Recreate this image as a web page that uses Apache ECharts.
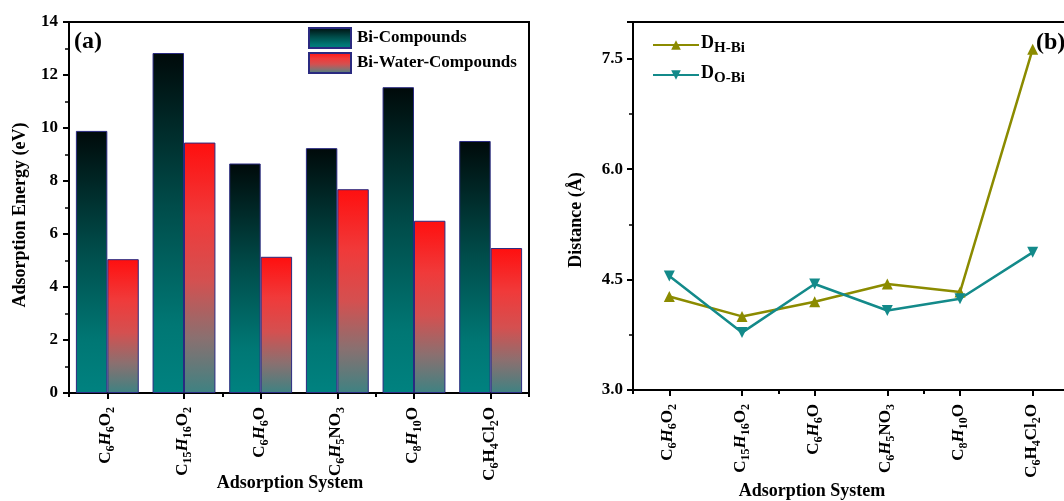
<!DOCTYPE html>
<html>
<head>
<meta charset="utf-8">
<script src="https://cdn.jsdelivr.net/npm/echarts@6/dist/echarts.min.js"></script>
<style>
html,body{margin:0;padding:0;background:#fff;}
#chart{width:1064px;height:501px;}
</style>
</head>
<body>
<div id="chart"></div>
<script>
// ---- data ----
var categories = ['C6H6O2', 'C15H16O2', 'C6H6O', 'C6H5NO3', 'C8H10O', 'C6H4Cl2O'];
var biCompounds = [9.89, 12.83, 8.66, 9.24, 11.54, 9.51];
var biWaterCompounds = [5.05, 9.45, 5.14, 7.69, 6.50, 5.47];
var dHBi = [4.27, 4.00, 4.20, 4.44, 4.33, 7.63];
var dOBi = [4.55, 3.78, 4.44, 4.08, 4.24, 4.87];
var energyTicks = [0, 2, 4, 6, 8, 10, 12, 14];
var distanceTicks = [3.0, 4.5, 6.0, 7.5];

var FONT = 'Liberation Serif';
var chart = echarts.init(document.getElementById('chart'), null, {renderer: 'canvas'});

function formulaLabel(v, idx) {
  var out = '';
  var re = /([A-Z][a-z]?)(\d*)/g, m;
  while ((m = re.exec(v)) !== null) {
    if (!m[0]) { re.lastIndex++; continue; }
    var st = (m[1] === 'H' && idx < 5) ? 'i' : 'n';
    out += '{' + st + '|' + m[1] + '}';
    if (m[2]) out += '{s|' + m[2] + '}';
  }
  return out;
}
var labelRich = {
  n: {fontFamily: FONT, fontWeight: 'bold', fontSize: 17, lineHeight: 20, color: '#000', verticalAlign: 'top'},
  i: {fontFamily: FONT, fontWeight: 'bold', fontStyle: 'italic', fontSize: 17, lineHeight: 20, color: '#000', verticalAlign: 'top'},
  s: {fontFamily: FONT, fontWeight: 'bold', fontSize: 12, lineHeight: 11, color: '#000', verticalAlign: 'bottom'}
};

var biGrad = {type: 'linear', x: 0, y: 0, x2: 0, y2: 1, colorStops: [
  {offset: 0, color: '#000a0a'}, {offset: 0.45, color: '#004c4a'},
  {offset: 0.8, color: '#007774'}, {offset: 1, color: '#008280'}]};
var waterGrad = {type: 'linear', x: 0, y: 0, x2: 0, y2: 1, colorStops: [
  {offset: 0, color: '#ff0f0f'}, {offset: 0.3, color: '#f03a3a'},
  {offset: 0.55, color: '#d45050'}, {offset: 0.78, color: '#8a7070'}, {offset: 1, color: '#3e8282'}]};

var axisLine = {show: true, lineStyle: {color: '#000', width: 2}};
var tickLabel = {color: '#000', fontFamily: FONT, fontWeight: 'bold', fontSize: 17};
var nameStyle = {color: '#000', fontFamily: FONT, fontWeight: 'bold', fontSize: 18};

var option = {
  animation: false,
  backgroundColor: '#fff',
  grid: [
    {left: 69, top: 22, width: 460, height: 371, show: true, borderColor: '#000', borderWidth: 2,
     backgroundColor: 'transparent', containLabel: false, outerBoundsMode: 'none'},
    {left: 633, top: 22, width: 436, height: 368, show: true, borderColor: '#000', borderWidth: 2,
     backgroundColor: 'transparent', containLabel: false, outerBoundsMode: 'none'}
  ],
  legend: [
    {
      data: ['Bi-Compounds', 'Bi-Water-Compounds'],
      orient: 'vertical', left: 308, top: 27, padding: 0, itemWidth: 42, itemHeight: 20, itemGap: 3,
      icon: 'rect', selectedMode: false,
      textStyle: {color: '#000', fontFamily: FONT, fontWeight: 'bold', fontSize: 17, padding: [0, 0, 0, 1]}
    },
    {
      data: ['DH-Bi', 'DO-Bi'],
      orient: 'vertical', left: 652, top: 34, padding: 0, itemWidth: 46, itemHeight: 12, itemGap: 8,
      selectedMode: false,
      formatter: function (n) { return '{m|D}{s|' + n.slice(1) + '}'; },
      textStyle: {
        color: '#000', padding: [0, 0, 0, -3],
        rich: {
          m: {fontFamily: FONT, fontWeight: 'bold', fontSize: 18, lineHeight: 22, color: '#000', verticalAlign: 'top'},
          s: {fontFamily: FONT, fontWeight: 'bold', fontSize: 15, lineHeight: 12, color: '#000', verticalAlign: 'bottom'}
        }
      }
    }
  ],
  xAxis: [
    {
      gridIndex: 0, type: 'category', data: categories, position: 'bottom',
      axisLine: axisLine,
      axisTick: {show: true, alignWithLabel: true, length: 6, lineStyle: {color: '#000', width: 2}},
      axisLabel: {rotate: 90, margin: 14, interval: 0, formatter: formulaLabel, rich: labelRich},
      name: 'Adsorption System', nameLocation: 'middle', nameGap: 81, nameMoveOverlap: false,
      nameTextStyle: Object.assign({}, nameStyle, {padding: [0, 18, 0, 0]})
    },
    {
      gridIndex: 0, type: 'category', data: categories, position: 'bottom',
      axisLine: {show: false},
      axisTick: {show: true, alignWithLabel: false, length: 4, lineStyle: {color: '#000', width: 2}},
      axisLabel: {show: false}
    },
    {
      gridIndex: 1, type: 'category', data: categories, position: 'bottom',
      axisLine: axisLine,
      axisTick: {show: true, alignWithLabel: true, length: 6, lineStyle: {color: '#000', width: 2}},
      axisLabel: {rotate: 90, margin: 14, interval: 0, formatter: formulaLabel, rich: labelRich},
      name: 'Adsorption System', nameLocation: 'middle', nameGap: 92, nameMoveOverlap: false,
      nameTextStyle: Object.assign({}, nameStyle, {padding: [0, 78, 0, 0]})
    },
    {
      gridIndex: 1, type: 'category', data: categories, position: 'bottom',
      axisLine: {show: false},
      axisTick: {show: true, alignWithLabel: false, length: 4, lineStyle: {color: '#000', width: 2}},
      axisLabel: {show: false}
    }
  ],
  yAxis: [
    {
      gridIndex: 0, type: 'value', min: energyTicks[0], max: energyTicks[energyTicks.length - 1], interval: 2,
      axisLine: axisLine,
      axisTick: {show: true, length: 6, lineStyle: {color: '#000', width: 2}},
      minorTick: {show: true, splitNumber: 2, length: 4, lineStyle: {color: '#000', width: 1.5}},
      splitLine: {show: false},
      axisLabel: Object.assign({}, tickLabel, {margin: 11}),
      name: 'Adsorption Energy (eV)', nameLocation: 'middle', nameGap: 40, nameMoveOverlap: false,
      nameTextStyle: Object.assign({}, nameStyle, {padding: [0, 15, 0, 0]})
    },
    {
      gridIndex: 1, type: 'value', min: distanceTicks[0], max: 8, interval: 1.5,
      axisLine: axisLine,
      axisTick: {show: true, length: 6, lineStyle: {color: '#000', width: 2}},
      minorTick: {show: true, splitNumber: 2, length: 4, lineStyle: {color: '#000', width: 1.5}},
      splitLine: {show: false},
      axisLabel: Object.assign({}, tickLabel, {margin: 10, showMaxLabel: false,
        formatter: function (v) { return distanceTicks.indexOf(v) >= 0 ? v.toFixed(1) : ''; }}),
      name: 'Distance (Å)', nameLocation: 'middle', nameGap: 48, nameMoveOverlap: false,
      nameTextStyle: Object.assign({}, nameStyle, {padding: [0, 28, 0, 0]})
    }
  ],
  series: [
    {
      name: 'Bi-Compounds', type: 'bar', xAxisIndex: 0, yAxisIndex: 0, data: biCompounds,
      barGap: '0%', barCategoryGap: '18%',
      itemStyle: {color: biGrad, borderColor: '#2a2a80', borderWidth: 1}
    },
    {
      name: 'Bi-Water-Compounds', type: 'bar', xAxisIndex: 0, yAxisIndex: 0, data: biWaterCompounds,
      barGap: '0%', barCategoryGap: '18%',
      itemStyle: {color: waterGrad, borderColor: '#2a2a80', borderWidth: 1}
    },
    {
      name: 'DH-Bi', type: 'line', xAxisIndex: 2, yAxisIndex: 1, data: dHBi,
      symbol: 'triangle', symbolSize: 11,
      lineStyle: {color: '#8b8b00', width: 2.5},
      itemStyle: {color: '#8b8b00'}
    },
    {
      name: 'DO-Bi', type: 'line', xAxisIndex: 2, yAxisIndex: 1, data: dOBi,
      symbol: 'triangle', symbolRotate: 180, symbolSize: 11,
      lineStyle: {color: '#138a8a', width: 2.5},
      itemStyle: {color: '#138a8a'}
    }
  ],
  graphic: [
    {type: 'text', left: 74, top: 30, style: {text: '(a)', fill: '#000', font: 'bold 24px "Liberation Serif"'}},
    {type: 'text', left: 1036, top: 31, style: {text: '(b)', fill: '#000', font: 'bold 24px "Liberation Serif"'}}
  ]
};
chart.setOption(option);
</script>
</body>
</html>
